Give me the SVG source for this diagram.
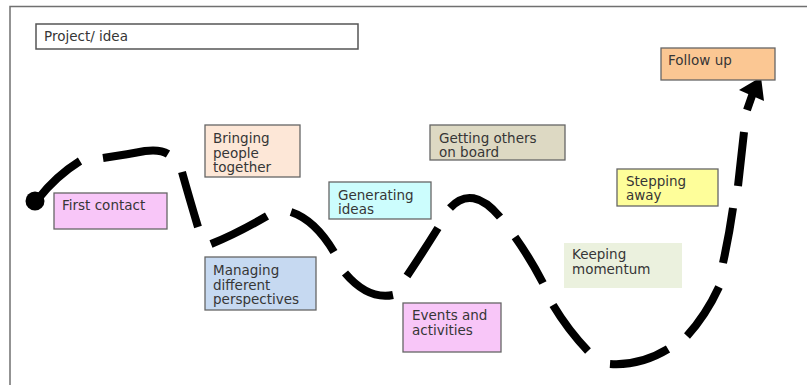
<svg xmlns="http://www.w3.org/2000/svg" width="807" height="385" viewBox="0 0 807 385">
<style>
.box{stroke:#666;stroke-width:1.3}
.t{font-family:"DejaVu Sans","Verdana",sans-serif;font-size:13.5px;fill:#363636}
.dash{fill:none;stroke:#000;stroke-width:8;stroke-linecap:butt;stroke-linejoin:round}
</style>
<rect width="807" height="385" fill="#fff"/>
<g id="frame" fill="none" stroke="#707070" stroke-width="1.5">
<path d="M10 385 V6.5 H807"/>
</g>
<g id="project">
<rect x="36" y="24" width="322" height="25" fill="#fff" stroke="#555" stroke-width="1.5"/>
<text class="t" x="44" y="40.5">Project/ idea</text>
</g>
<g id="connectors">
<circle cx="35" cy="201" r="9.5" fill="#000"/>
<path class="dash" d="M38 199 Q56 176 80 161 M103 158 Q130 154 145 151 Q160 149 168 154 M182 172 Q189 197 198 227 M211 244 Q236 234 267 216 M291 212 Q315 220 334 252 M345 273 Q368 300 393 295 M407 276 Q423 252 438 228 M450 208 Q472 184 500 217 M515 237 Q530 258 543 283 M553 305 Q568 330 588 351 M610 364 Q640 366 668 349 M687 336 Q706 315 719 287 M723 263 Q729 236 733 208 M738 186 Q741 160 744 132 M747 110 L754 90"/>
<polygon points="739,90 761,77 764,101" fill="#000"/>
</g>
<g id="follow-up">
<rect class="box" x="661" y="48" width="114" height="32" fill="#fbc793" stroke="#7a5a40"/>
<text class="t" x="668" y="65">Follow up</text>
</g>
<g id="bringing">
<rect class="box" x="205" y="125" width="95" height="52" fill="#fde7d7"/>
<text class="t" x="213" y="143">Bringing</text>
<text class="t" x="213" y="157.5">people</text>
<text class="t" x="213" y="172">together</text>
</g>
<g id="first-contact">
<rect class="box" x="54" y="193" width="113" height="36" fill="#f8c6f8"/>
<text class="t" x="62" y="210">First contact</text>
</g>
<g id="generating">
<rect class="box" x="329" y="182" width="102" height="37" fill="#ccfdfd"/>
<text class="t" x="338" y="199.5">Generating</text>
<text class="t" x="338" y="214">ideas</text>
</g>
<g id="managing">
<rect class="box" x="205" y="257" width="111" height="53" fill="#c6d9f1"/>
<text class="t" x="213" y="275">Managing</text>
<text class="t" x="213" y="289.5">different</text>
<text class="t" x="213" y="304">perspectives</text>
</g>
<g id="getting">
<rect class="box" x="430" y="125" width="135" height="35" fill="#ddd9c3"/>
<text class="t" x="439" y="142.5">Getting others</text>
<text class="t" x="439" y="157">on board</text>
</g>
<g id="stepping">
<rect class="box" x="617" y="169" width="101" height="37" fill="#fefe9a"/>
<text class="t" x="626" y="185.5">Stepping</text>
<text class="t" x="626" y="200">away</text>
</g>
<g id="keeping">
<rect x="564" y="243" width="118" height="45" fill="#ebf1de"/>
<text class="t" x="572" y="259">Keeping</text>
<text class="t" x="572" y="273.5">momentum</text>
</g>
<g id="events">
<rect class="box" x="403" y="303" width="98" height="49" fill="#f8c6f8"/>
<text class="t" x="412" y="320">Events and</text>
<text class="t" x="412" y="334.5">activities</text>
</g>
</svg>
